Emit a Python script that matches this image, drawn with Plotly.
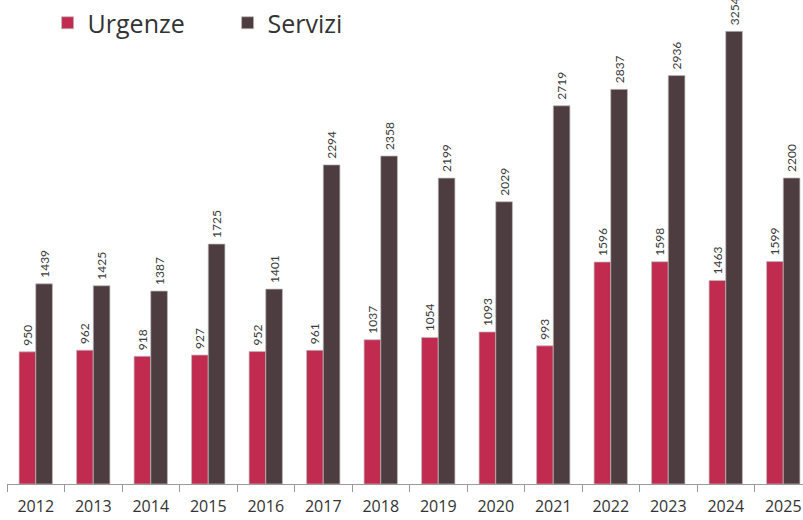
import plotly.graph_objects as go

years = ["2012", "2013", "2014", "2015", "2016", "2017", "2018",
         "2019", "2020", "2021", "2022", "2023", "2024", "2025"]
urgenze = [950, 962, 918, 927, 952, 961, 1037, 1054, 1093, 993, 1596, 1598, 1463, 1599]
servizi = [1439, 1425, 1387, 1725, 1401, 2294, 2358, 2199, 2029, 2719, 2837, 2936, 3254, 2200]

RED = "#C12B50"
DARK = "#4D3D40"
FONT = "Lato, 'Open Sans', sans-serif"
FONT2 = "'Open Sans', Lato, sans-serif"

fig = go.Figure()
for name, vals, col in [("Urgenze", urgenze, RED), ("Servizi", servizi, DARK)]:
    fig.add_trace(go.Bar(
        x=years, y=vals, name=name,
        marker=dict(color=col, line=dict(color="rgba(190,185,186,0.9)", width=0.8)),
        text=[str(v) for v in vals],
        texttemplate="\u00a0%{text}",
        textposition="outside", textangle=-90,
        textfont=dict(family=FONT, size=12, color="#3a3a3a"),
        constraintext="none",
        cliponaxis=False,
    ))

fig.update_layout(
    width=803, height=520,
    margin=dict(l=7, r=0, t=0, b=36, autoexpand=False),
    paper_bgcolor="white", plot_bgcolor="white",
    barmode="group", bargap=0.42, bargroupgap=0,
    showlegend=True,
    legend=dict(
        orientation="h", x=0.051, y=1.0, xanchor="left", yanchor="top",
        font=dict(family=FONT2, size=25, color="#333"),
        itemwidth=30, entrywidth=135, entrywidthmode="pixels",
        tracegroupgap=0, bgcolor="rgba(0,0,0,0)",
    ),
)
fig.update_xaxes(
    type="category",
    range=[-0.5, -0.5 + 796 / 57.5],
    showline=True, linecolor="#9a9a9a", linewidth=1,
    ticks="outside", tickson="boundaries", ticklen=7, tickcolor="#9a9a9a",
    tickfont=dict(family=FONT2, size=16, color="#333"),
    ticklabelstandoff=8,
    showgrid=False, zeroline=False,
)
fig.update_yaxes(
    range=[0, 484 / 0.1391],
    visible=False, showgrid=False, zeroline=False,
)

fig.write_html(
    "out.html",
    config={"displayModeBar": False},
    post_script="document.body.style.margin='0';document.body.style.overflow='hidden';",
)
